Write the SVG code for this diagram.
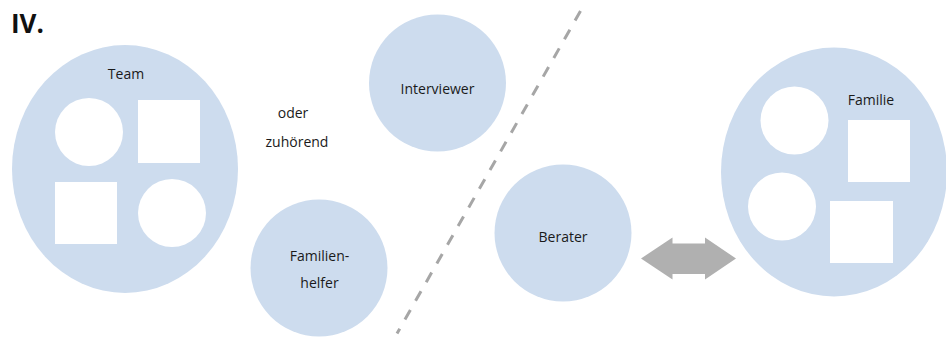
<svg xmlns="http://www.w3.org/2000/svg" width="946" height="338" viewBox="0 0 946 338">
  <style>
    .blob { fill: #cddcee; }
    .hole { fill: #ffffff; }
    .lbl { font-family: "Open Sans", "Noto Sans", "DejaVu Sans", sans-serif; font-size: 14px; fill: #1a1a1a; text-anchor: middle; }
    .title { font-family: "Open Sans", "Noto Sans", "DejaVu Sans", sans-serif; font-size: 26px; font-weight: bold; fill: #111111; }
    .divider { stroke: #a6a6a6; stroke-width: 3; stroke-dasharray: 11 10.5; fill: none; }
    .dbl { fill: #b0b0b0; }
  </style>

  <text class="title" x="11" y="33">IV.</text>

  <g id="team">
    <ellipse class="blob" cx="125" cy="169" rx="113" ry="124"/>
    <circle class="hole" cx="89" cy="132" r="34"/>
    <rect class="hole" x="138" y="100" width="62" height="63"/>
    <rect class="hole" x="55" y="182" width="62" height="62"/>
    <circle class="hole" cx="172" cy="213" r="34"/>
    <text class="lbl" x="126" y="79">Team</text>
  </g>

  <g id="interviewer">
    <circle class="blob" cx="437.5" cy="83" r="68.5"/>
    <text class="lbl" x="437.5" y="94">Interviewer</text>
  </g>

  <g id="oder-zuhoerend">
    <text class="lbl" x="293" y="118">oder</text>
    <text class="lbl" x="297" y="146.5">zuhörend</text>
  </g>

  <g id="familienhelfer">
    <circle class="blob" cx="319" cy="268" r="68.5"/>
    <text class="lbl" x="319.5" y="261">Familien-</text>
    <text class="lbl" x="319.5" y="288">helfer</text>
  </g>

  <g id="berater">
    <circle class="blob" cx="563" cy="233" r="68.5"/>
    <text class="lbl" x="563" y="241.5">Berater</text>
  </g>

  <g id="familie">
    <ellipse class="blob" cx="834" cy="172" rx="113" ry="124.5"/>
    <circle class="hole" cx="794.5" cy="120.5" r="34"/>
    <rect class="hole" x="848" y="120" width="62" height="62"/>
    <circle class="hole" cx="782" cy="206.5" r="34"/>
    <rect class="hole" x="830" y="201" width="63" height="62"/>
    <text class="lbl" x="871" y="105">Familie</text>
  </g>

  <g id="connectors">
    <line class="divider" x1="580.5" y1="11" x2="397" y2="333.5"/>
    <polygon class="dbl" points="641,258.5 672.5,237.5 672.5,243.5 705,243.5 705,237.5 736,258.5 705,279.5 705,274 672.5,274 672.5,279.5"/>
  </g>
</svg>
